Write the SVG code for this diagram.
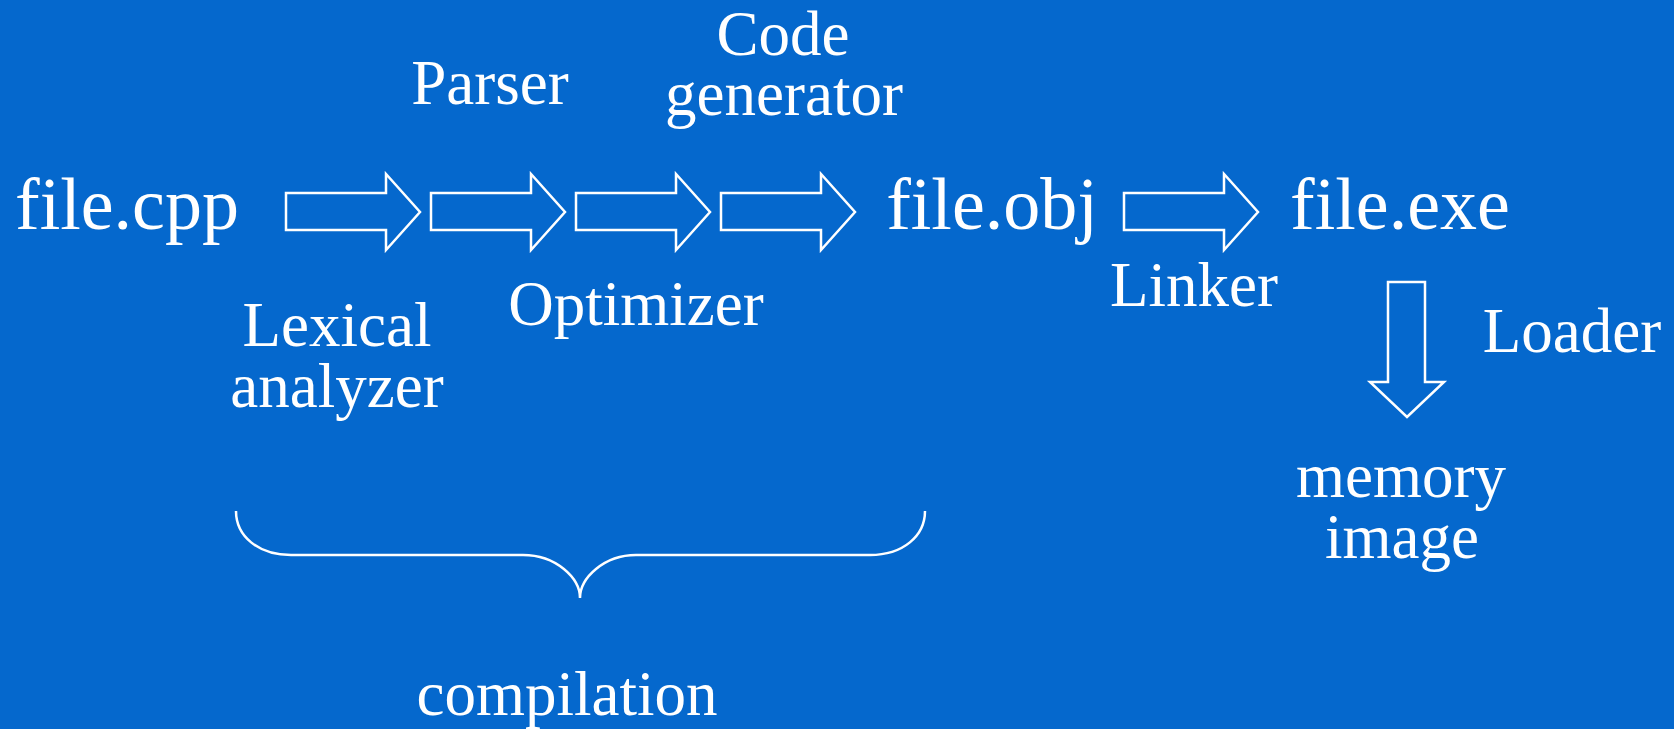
<svg xmlns="http://www.w3.org/2000/svg" width="1674" height="729" viewBox="0 0 1674 729">
<style>
.t{font-family:"Liberation Serif","Times New Roman",serif;fill:#fff;text-anchor:middle}
.f{font-size:74px}
.l{font-size:63px}
.a{fill:none;stroke:#fff;stroke-width:2.5;stroke-linejoin:miter}
</style>
<defs>
<polygon id="ra" points="0,193 100,193 100,174 134,212 100,250 100,230 0,230"/>
</defs>
<rect width="1674" height="729" fill="#0568cd"/>
<g id="file-cpp"><text class="t f" x="127" y="229">file.cpp</text></g>
<g id="file-obj"><text class="t f" x="992" y="229">file.obj</text></g>
<g id="file-exe"><text class="t f" x="1400" y="229">file.exe</text></g>
<g id="lexical"><text class="t l" x="337" y="346">Lexical</text><text class="t l" x="337" y="407">analyzer</text></g>
<g id="parser"><text class="t l" x="490" y="104">Parser</text></g>
<g id="optimizer"><text class="t l" x="636" y="325">Optimizer</text></g>
<g id="codegen"><text class="t l" x="783" y="55">Code</text><text class="t l" x="784" y="115">generator</text></g>
<g id="linker"><text class="t l" x="1194" y="306">Linker</text></g>
<g id="loader"><text class="t l" x="1572" y="352">Loader</text></g>
<g id="memory-image"><text class="t l" x="1401" y="497">memory</text><text class="t l" x="1402" y="558">image</text></g>
<g id="compilation"><text class="t l" x="567" y="715">compilation</text></g>
<g id="connectors">
<use href="#ra" class="a" x="286"/>
<use href="#ra" class="a" x="431"/>
<use href="#ra" class="a" x="576"/>
<use href="#ra" class="a" x="721"/>
<use href="#ra" class="a" x="1124"/>
<polygon class="a" points="1388,282 1425,282 1425,382 1444,382 1407,417 1370,382 1388,382"/>
<path class="a" d="M236,511 C236,536 258,555 291,555 L523,555 C556,555 580,578 580,598 C580,578 604,555 636,555 L870,555 C903,555 925,536 925,511"/>
</g>
</svg>
